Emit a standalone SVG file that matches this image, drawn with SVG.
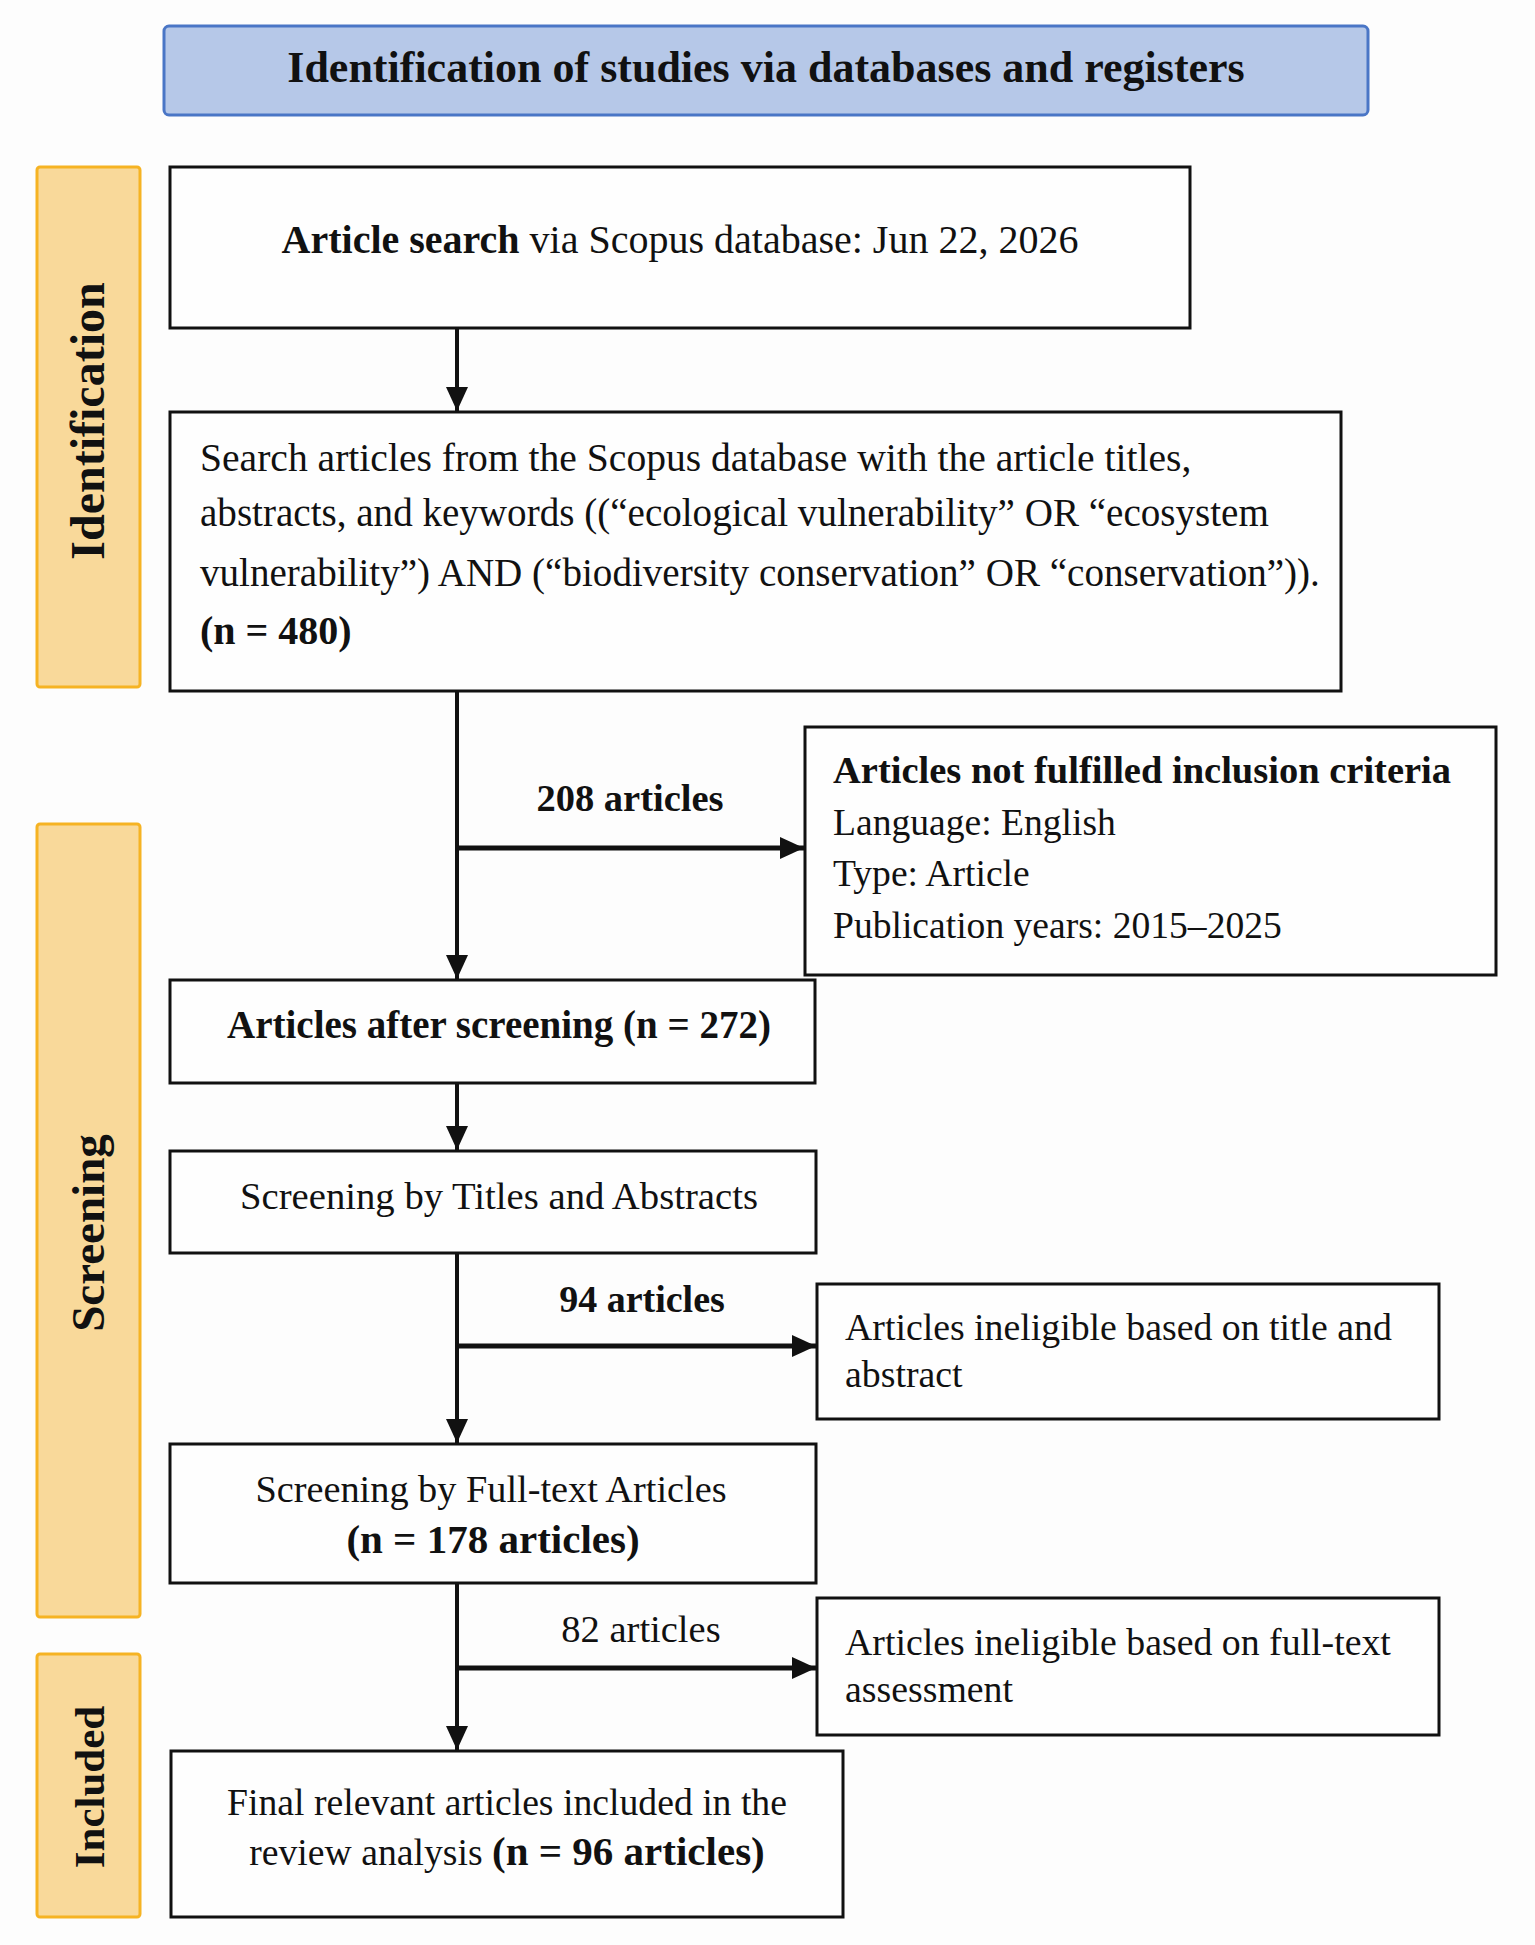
<svg xmlns="http://www.w3.org/2000/svg" width="1535" height="1945" viewBox="0 0 1535 1945">
<style>
.bg{fill:#fdfdfd}
.box{fill:#fefefe;stroke:#111;stroke-width:3}
.side{fill:#f9d99a;stroke:#f6b323;stroke-width:3}
.title{fill:#b6c8e8;stroke:#4a76c6;stroke-width:3}
text{font-family:"Liberation Serif","Times New Roman",serif;fill:#111}
.b{font-weight:bold}
.c{text-anchor:middle}
.conn{stroke:#111;stroke-width:4;fill:none}
.h{stroke-width:5}
</style>
<defs>
<marker id="ah" markerUnits="userSpaceOnUse" markerWidth="24" markerHeight="22" refX="24" refY="11" orient="auto">
<path d="M0,0 L24,11 L0,22 z" fill="#111"/>
</marker>
</defs>
<rect class="bg" x="0" y="0" width="1535" height="1945"/>

<g id="header">
<rect class="title" x="164" y="26" width="1204" height="89" rx="5"/>
<text class="b c" x="766" y="82" font-size="44">Identification of studies via databases and registers</text>
</g>

<g id="phase-identification">
<rect class="side" x="37" y="167" width="103" height="520" rx="3"/>
<text class="b c" font-size="48" transform="translate(104,421) rotate(-90)">Identification</text>
</g>
<g id="phase-screening">
<rect class="side" x="37" y="824" width="103" height="793" rx="3"/>
<text class="b c" font-size="47" transform="translate(104,1233) rotate(-90)">Screening</text>
</g>
<g id="phase-included">
<rect class="side" x="37" y="1654" width="103" height="263" rx="3"/>
<text class="b c" font-size="43" transform="translate(104,1787) rotate(-90)">Included</text>
</g>

<g id="n-search">
<rect class="box" x="170" y="167" width="1020" height="161"/>
<text class="c" x="680" y="253" font-size="40"><tspan class="b">Article search</tspan> via Scopus database: Jun 22, 2026</text>
</g>

<g id="n-query">
<rect class="box" x="170" y="412" width="1171" height="279"/>
<text x="200" y="471" font-size="39.6">Search articles from the Scopus database with the article titles,</text>
<text x="200" y="526" font-size="39.1">abstracts, and keywords ((“ecological vulnerability” OR “ecosystem</text>
<text x="200" y="586" font-size="39.1">vulnerability”) AND (“biodiversity conservation” OR “conservation”)).</text>
<text class="b" x="200" y="644" font-size="40">(n = 480)</text>
</g>

<g id="n-excluded-criteria">
<rect class="box" x="805" y="727" width="691" height="248"/>
<text class="b" x="833" y="783" font-size="38.5">Articles not fulfilled inclusion criteria</text>
<text x="833" y="835" font-size="37.6">Language: English</text>
<text x="833" y="886" font-size="37.6">Type: Article</text>
<text x="833" y="938" font-size="37.6">Publication years: 2015–2025</text>
</g>

<g id="n-after-screening">
<rect class="box" x="170" y="980" width="645" height="103"/>
<text class="b c" x="499" y="1038" font-size="39">Articles after screening (n = 272)</text>
</g>

<g id="n-title-abstract">
<rect class="box" x="170" y="1151" width="646" height="102"/>
<text class="c" x="499" y="1209" font-size="38.7">Screening by Titles and Abstracts</text>
</g>

<g id="n-excluded-title">
<rect class="box" x="817" y="1284" width="622" height="135"/>
<text x="845" y="1340" font-size="37.8">Articles ineligible based on title and</text>
<text x="845" y="1387" font-size="37.8">abstract</text>
</g>

<g id="n-fulltext">
<rect class="box" x="170" y="1444" width="646" height="139"/>
<text class="c" x="491" y="1502" font-size="38.3">Screening by Full-text Articles</text>
<text class="b c" x="493" y="1553" font-size="41">(n = 178 articles)</text>
</g>

<g id="n-excluded-fulltext">
<rect class="box" x="817" y="1598" width="622" height="137"/>
<text x="845" y="1655" font-size="37.8">Articles ineligible based on full-text</text>
<text x="845" y="1702" font-size="37.8">assessment</text>
</g>

<g id="n-final">
<rect class="box" x="171" y="1751" width="672" height="166"/>
<text class="c" x="507" y="1815" font-size="37.7">Final relevant articles included in the</text>
<text class="c" x="507" y="1865" font-size="37.7">review analysis <tspan class="b" font-size="41">(n = 96 articles)</tspan></text>
</g>

<g id="connectors">
<line class="conn" x1="457" y1="328" x2="457" y2="411" marker-end="url(#ah)"/>
<line class="conn" x1="457" y1="691" x2="457" y2="979" marker-end="url(#ah)"/>
<line class="conn h" x1="457" y1="848" x2="804" y2="848" marker-end="url(#ah)"/>
<line class="conn" x1="457" y1="1083" x2="457" y2="1150" marker-end="url(#ah)"/>
<line class="conn" x1="457" y1="1253" x2="457" y2="1443" marker-end="url(#ah)"/>
<line class="conn h" x1="457" y1="1346" x2="816" y2="1346" marker-end="url(#ah)"/>
<line class="conn" x1="457" y1="1583" x2="457" y2="1750" marker-end="url(#ah)"/>
<line class="conn h" x1="457" y1="1668" x2="816" y2="1668" marker-end="url(#ah)"/>
<text class="b c" x="630" y="811" font-size="38.5">208 articles</text>
<text class="b c" x="642" y="1312" font-size="38">94 articles</text>
<text class="c" x="641" y="1642" font-size="38.5">82 articles</text>
</g>
</svg>
